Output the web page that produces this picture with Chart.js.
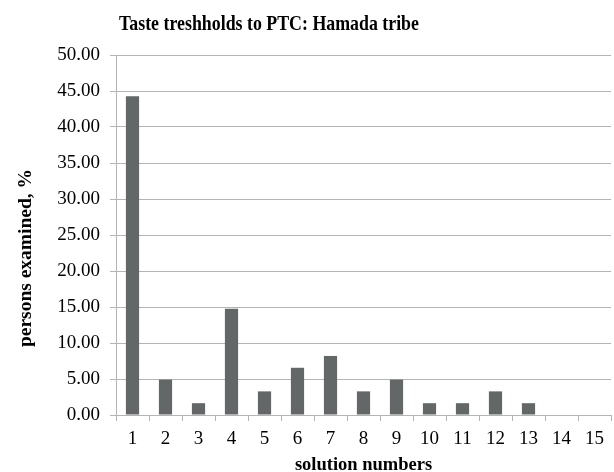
<!DOCTYPE html>
<html>
<head>
<meta charset="utf-8">
<script src="https://cdn.jsdelivr.net/npm/chart.js@4/dist/chart.umd.min.js"></script>
<style>
  html, body { margin: 0; padding: 0; background: #fff; }
  #wrap { width: 614px; height: 472px; }
</style>
</head>
<body>
<div id="wrap"><canvas id="tasteChart" width="614" height="472"></canvas></div>
<script>
// solution numbers on the x axis
const solutions = ['1', '2', '3', '4', '5', '6', '7', '8', '9', '10', '11', '12', '13', '14', '15'];
// share of persons examined, %
const personsPct = [44.26, 4.92, 1.64, 14.75, 3.28, 6.56, 8.20, 3.28, 4.92, 1.64, 1.64, 3.28, 1.64, 0, 0];
const yMin = 0;
const yMax = 50;
const yStep = 5;

const chartTitle = 'Taste treshholds to PTC: Hamada tribe';
const yTitle = 'persons examined, %';

const serif = "'Liberation Serif', 'DejaVu Serif', serif";
const gridGray = '#b4b4b4';

// title and y title sit off-centre in the original, so draw them by hand
const sideTexts = {
    id: 'sideTexts',
    afterDraw(chart) {
        const c = chart.ctx;
        c.save();
        c.fillStyle = '#000';
        c.textAlign = 'center';
        c.textBaseline = 'alphabetic';
        // the title is a bit narrow in the original
        c.save();
        c.translate(269, 29.5);
        c.scale(0.83, 1);
        c.font = `bold 21.5px ${serif}`;
        c.fillText(chartTitle, 0, 0);
        c.restore();

        c.textBaseline = 'middle';
        c.translate(26, 258);
        c.rotate(-Math.PI / 2);
        c.font = `bold 19.5px ${serif}`;
        c.fillText(yTitle, 0, 0);
        c.restore();
    }
};

const ctx = document.getElementById('tasteChart').getContext('2d');

new Chart(ctx, {
    type: 'bar',
    data: {
        labels: solutions,
        datasets: [{
            label: yTitle,
            data: personsPct,
            backgroundColor: '#636767',
            borderWidth: 0,
            categoryPercentage: 1,
            barPercentage: 0.4
        }]
    },
    plugins: [sideTexts],
    options: {
        responsive: false,
        animation: false,
        layout: { padding: { top: 55, right: 3 } },
        plugins: {
            legend: { display: false },
            tooltip: { enabled: false },
            title: { display: false }
        },
        scales: {
            x: {
                offset: true,
                grid: {
                    offset: true,
                    drawOnChartArea: false,
                    drawTicks: true,
                    tickLength: 6,
                    color: gridGray
                },
                border: { color: gridGray },
                ticks: {
                    color: '#000',
                    font: { family: serif, size: 19 },
                    padding: 7,
                    maxRotation: 0
                },
                title: {
                    display: true,
                    text: 'solution numbers',
                    color: '#000',
                    font: { family: serif, size: 18.5, weight: 'bold', lineHeight: 1 },
                    padding: { top: 0, bottom: -2 }
                },
                afterFit: (scale) => { scale.height = 57; }
            },
            y: {
                min: yMin,
                max: yMax,
                grid: {
                    color: gridGray,
                    tickLength: 6
                },
                border: { color: gridGray },
                ticks: {
                    stepSize: yStep,
                    color: '#000',
                    font: { family: serif, size: 19 },
                    padding: 10,
                    callback: (v) => v.toFixed(2)
                },
                afterFit: (scale) => { scale.width = 116; }
            }
        }
    }
});
</script>
</body>
</html>
